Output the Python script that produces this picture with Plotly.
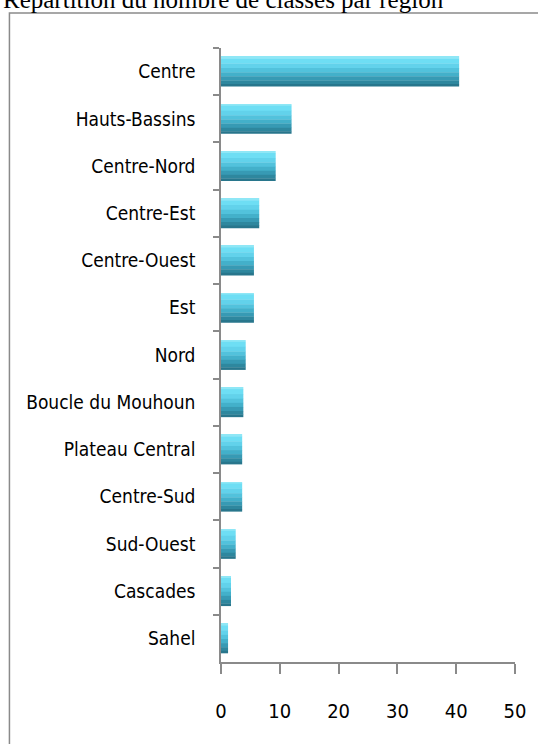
import plotly.graph_objects as go

# Data
regions = ["Centre", "Hauts-Bassins", "Centre-Nord", "Centre-Est", "Centre-Ouest", "Est",
           "Nord", "Boucle du Mouhoun", "Plateau Central", "Centre-Sud", "Sud-Ouest",
           "Cascades", "Sahel"]
values = [40.5, 12.0, 9.3, 6.5, 5.6, 5.6, 4.2, 3.8, 3.6, 3.6, 2.5, 1.7, 1.2]
x_ticks = [0, 10, 20, 30, 40, 50]
title_text = "Répartition du nombre de classes par région"

W, H = 538, 744
L, R, T, B = 221, 21, 48, 82
pw, ph = W - L - R, H - T - B

def px_x(px):
    return (px - L) / pw

def px_y(py):
    return (H - B - py) / ph

# vertical gradient bands for the glossy bar look (fractions of bar thickness, top -> bottom)
BAR_W = 0.62
bands = [(0.00, 0.05, "#8FE7F6"), (0.05, 0.22, "#6EDEF4"), (0.22, 0.38, "#62D2EB"),
         (0.38, 0.52, "#52C2DC"), (0.52, 0.66, "#43B0CA"), (0.66, 0.80, "#379AB4"),
         (0.80, 0.92, "#2E879E"), (0.92, 1.00, "#28768C")]

fig = go.Figure()
for i, (a, b, col) in enumerate(bands):
    fig.add_trace(go.Bar(y=regions, x=values, orientation="h",
                         width=(b - a) * BAR_W + 0.006, offset=-BAR_W / 2 + a * BAR_W,
                         marker=dict(color=col, line=dict(width=0)),
                         hoverinfo="x+y" if i == 0 else "skip", showlegend=False))

font_fam = "DejaVu Sans Condensed, Liberation Sans Narrow, Roboto Condensed, Arial Narrow, sans-serif"

fig.update_layout(
    width=W, height=H,
    margin=dict(l=L, r=R, t=T, b=B, pad=0),
    paper_bgcolor="white", plot_bgcolor="white",
    barmode="overlay",
    showlegend=False,
    xaxis=dict(range=[0, 50], tickvals=x_ticks, ticktext=[str(v) for v in x_ticks],
               showgrid=False, zeroline=False, showline=True, linecolor="#8a8a8a", linewidth=1.5,
               ticks="outside", ticklen=10, tickwidth=1.5, tickcolor="#8a8a8a",
               ticklabelstandoff=20,
               tickfont=dict(family=font_fam, size=20, color="#000")),
    yaxis=dict(autorange="reversed", type="category", showgrid=False, zeroline=False,
               showline=True, linecolor="#8a8a8a", linewidth=1.5,
               ticks="outside", tickson="boundaries", ticklen=6, tickwidth=1.5,
               tickcolor="#8a8a8a", ticklabelstandoff=20,
               tickfont=dict(family=font_fam, size=19, color="#000")),
    shapes=[dict(type="rect", xref="paper", yref="paper",
                 x0=px_x(8), x1=px_x(600), y0=px_y(800), y1=px_y(13),
                 line=dict(color="#8a8a8a", width=1.5), fillcolor="rgba(0,0,0,0)", layer="below")],
    annotations=[dict(text=title_text, xref="paper", yref="paper", x=px_x(0), y=px_y(0),
                      xanchor="left", yanchor="middle", showarrow=False,
                      font=dict(family="Liberation Serif, Times New Roman, serif", size=25, color="#000"))],
)

fig.write_html("out.html", config={"displayModeBar": False},
               post_script="document.body.style.margin='0';document.body.style.padding='0';")
